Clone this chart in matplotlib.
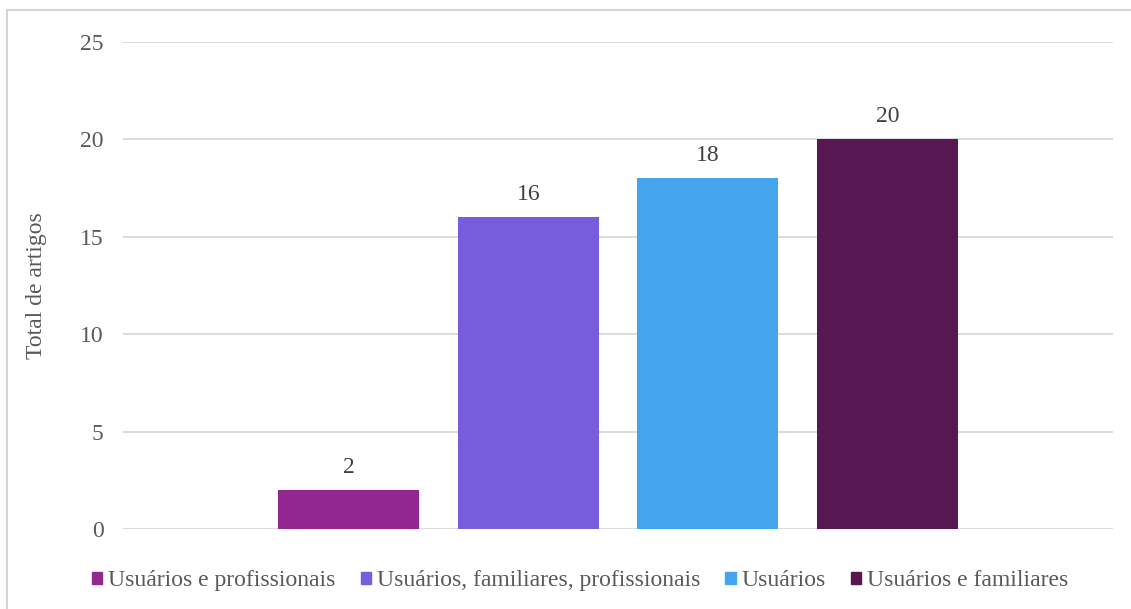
import matplotlib.pyplot as plt
import matplotlib.patches as mpatches
import numpy as np

series = ['Usuários e profissionais', 'Usuários, familiares, profissionais',
          'Usuários', 'Usuários e familiares']
values = [2, 16, 18, 20]
colors = ['#92278F', '#775DDC', '#45A5EC', '#561753']

plt.rcParams['font.family'] = ['Liberation Serif', 'DejaVu Serif']
TXT = '#595959'
FS = 17

fig = plt.figure(figsize=(11.31, 6.09), dpi=100)
ax = fig.add_axes([0.1088, 0.1314, 0.8754, 0.7996])

x = np.arange(len(values))
bars = ax.bar(x, values, width=0.786, color=colors, zorder=3)
for xi, v in zip(x, values):
    ax.annotate(str(v), (xi, v), xytext=(0, 9), textcoords='offset points',
                ha='center', va='bottom', fontsize=FS, color='#404040')

half = 990 / 179.5 / 2
ax.set_xlim(1.5 - half, 1.5 + half)
ax.set_ylim(0, 25)
ax.set_yticks(range(0, 26, 5))
ax.set_xticks([])
ax.yaxis.grid(True, color='#D9D9D9', linewidth=1.3, zorder=0)
ax.tick_params(axis='y', length=0, pad=14, labelsize=FS, labelcolor=TXT)
for s in ax.spines.values():
    s.set_visible(False)
ax.set_ylabel('Total de artigos', fontsize=FS, color=TXT, labelpad=24)

handles = [mpatches.Patch(color=c) for c in colors]
fig.legend(handles, series, loc='center', bbox_to_anchor=(0.513, 0.046), ncol=4,
           frameon=False, fontsize=FS, handlelength=0.45, handleheight=0.45,
           handletextpad=0.25, columnspacing=1.05, labelcolor=TXT)

# outer chart border (only left and top visible in the crop)
fig.add_artist(plt.Line2D([7 / 1131, 7 / 1131], [0, 1 - 10 / 609],
                          color='#D9D2DE', linewidth=1.5, transform=fig.transFigure))
fig.add_artist(plt.Line2D([7 / 1131, 1], [1 - 10 / 609, 1 - 10 / 609],
                          color='#D9D2DE', linewidth=1.5, transform=fig.transFigure))

plt.savefig('out.png', dpi=100)
plt.close()
